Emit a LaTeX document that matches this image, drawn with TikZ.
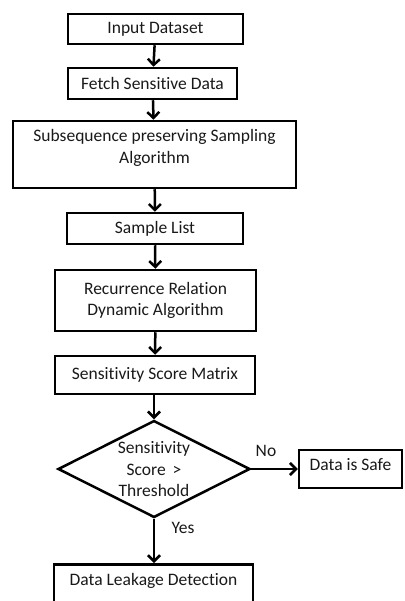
\documentclass[tikz,border=0pt]{standalone}
\usepackage{fontspec}
\setmainfont{Carlito}[Ligatures=NoCommon]
\usetikzlibrary{shapes.geometric,arrows.meta}

\tikzset{
  box/.style={draw=black, line width=2.5pt, rectangle, inner sep=0pt, align=center,
              font=\fontsize{17.5}{21.5}\selectfont, text=black!90},
  decision/.style={draw=black, line width=2.5pt, diamond, inner sep=0pt, aspect=1,
              font=\fontsize{17.5}{21.5}\selectfont, text=black!90},
  flow/.style={line width=2.5pt, -{Straight Barb[length=6pt,width=12pt,line width=2.5pt]}},
  tag/.style={inner sep=0pt, font=\fontsize{17.5}{20}\selectfont, text=black!90}
}

\begin{document}
\begin{tikzpicture}[x=1pt,y=-1pt]
  \useasboundingbox (0,0) rectangle (404,601);

  \node[box, minimum width=175pt, minimum height=30pt] (input) at (155.5,29) {Input Dataset};
  \node[box, minimum width=169pt, minimum height=31pt] (fetch) at (152.5,83.5) {Fetch Sensitive Data};
  \node[box, minimum width=283pt, minimum height=67pt] (subseq) at (154.5,154.5)
    {Subsequence preserving Sampling\\Algorithm\rule[-16pt]{0pt}{16pt}};
  \node[box, minimum width=176pt, minimum height=31pt] (sample) at (155,228.5) {Sample List};
  \node[box, minimum width=201pt, minimum height=61pt] (recur) at (155.5,300.5)
    {Recurrence Relation\\Dynamic Algorithm};
  \node[box, minimum width=200pt, minimum height=38pt] (matrix) at (155,375) {Sensitivity Score Matrix};
  % the text is smashed so the diamond keeps its own size and the lines reach its edges
  \node[decision, minimum width=192pt, minimum height=97pt] (check) at (154,469)
    {\smash{\raisebox{-6.5pt}{\begin{tabular}{@{}c@{}}Sensitivity\\Score \,>\\Threshold\end{tabular}}}};
  \node[box, minimum width=103pt, minimum height=38pt] (safe) at (350.5,469) {Data is Safe\rule[-9pt]{0pt}{0pt}};
  \node[box, minimum width=199pt, minimum height=56pt, anchor=north] (leak) at (153.5,563)
    {Data Leakage Detection\rule[-26pt]{0pt}{0pt}};

  \draw[flow] (input) -- (fetch);
  \draw[flow] (fetch) -- (subseq);
  \draw[flow] (subseq) -- (sample);
  \draw[flow] (sample) -- (recur);
  \draw[flow] (recur) -- (matrix);
  \draw[flow] (matrix.south -| check.north) -- (check.north);
  \draw[flow] (check.east) -- (safe.west);
  \draw[flow] (check.south) -- (check.south |- leak.north);

  \node[tag] (no) at (266,451) {No};
  \node[tag] (yes) at (183,528) {Yes};
\end{tikzpicture}
\end{document}
